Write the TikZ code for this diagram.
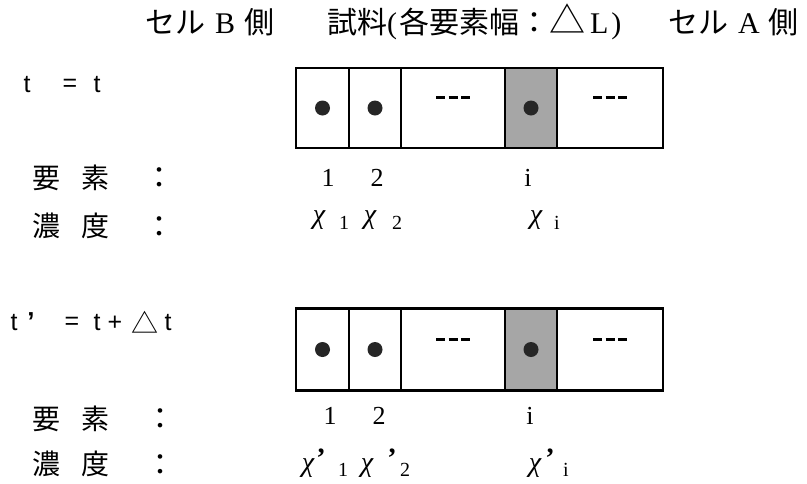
\documentclass[tikz,border=0pt]{standalone}
\usepackage{fontspec}
\setmainfont{Liberation Serif}
\newfontfamily\cjk{Noto Sans CJK JP}
\newfontfamily\sansf{Liberation Sans}
\begin{document}
\begin{tikzpicture}[x=1pt,y=-1pt,
  cell/.style={draw, line width=2.6pt, inner sep=0pt, outer sep=0pt},
  shaded/.style={cell, fill=black!35},
  dot/.style={circle, fill=black!85, minimum size=15pt, inner sep=0pt},
  tripledash/.style={line width=3pt, dash pattern=on 9pt off 3.5pt},
  head/.style={inner sep=0pt, anchor=west, font=\fontsize{30}{30}\selectfont},
  kanji/.style={inner sep=0pt, font=\cjk\fontsize{28}{28}\selectfont},
  colon/.style={inner sep=0pt, font=\cjk\fontsize{30}{30}\selectfont},
  tlab/.style={inner sep=0pt, font=\sansf\fontsize{25}{25}\selectfont},
  num/.style={inner sep=0pt, font=\fontsize{26}{26}\selectfont},
  chi/.style={inner sep=0pt, font=\itshape\fontsize{28}{28}\selectfont},
  sub/.style={inner sep=0pt, font=\fontsize{20}{20}\selectfont},
  prime/.style={inner sep=0pt, font=\bfseries\fontsize{28}{28}\selectfont}
]
\useasboundingbox (0,0) rectangle (807,483);

% header
\node[head] (hB) at (145,22) {{\cjk セル}\hspace{10pt}B\hspace{9pt}{\cjk 側}};
\node[head] (hS) at (327,22) {{\cjk 試料}(\hspace{2pt}{\cjk 各要素幅：}{\cjk\fontsize{36}{36}\selectfont △}\hspace{5pt}L\hspace{3pt})};
\node[head] (hA) at (668,22) {{\cjk セル}\hspace{10pt}A\hspace{9pt}{\cjk 側}};

% time labels
\node[tlab] (t1a) at (27,85) {t};
\node[tlab] (t1b) at (70,85) {=};
\node[tlab] (t1c) at (97,85) {t};

\node[tlab] (t2a) at (14,323) {t};
\node[inner sep=0pt, font=\sansf\bfseries\fontsize{26}{26}\selectfont] (t2p) at (31,322) {’};
\node[tlab] (t2b) at (72,323) {=};
\node[tlab] (t2c) at (97,323) {t};
\node[tlab] (t2d) at (115,323) {+};
\node[inner sep=0pt, font=\cjk\fontsize{27}{27}\selectfont] (t2e) at (145,322) {△};
\node[tlab] (t2f) at (168,323) {t};

% row labels
\node[kanji] (y1a) at (46,178) {要};
\node[kanji] (y1b) at (95,178) {素};
\node[colon] (y1c) at (159,178) {：};
\node[kanji] (n1a) at (46,226) {濃};
\node[kanji] (n1b) at (95,226) {度};
\node[colon] (n1c) at (159,227) {：};

\node[kanji] (y2a) at (46,419) {要};
\node[kanji] (y2b) at (95,419) {素};
\node[colon] (y2c) at (160,419) {：};
\node[kanji] (n2a) at (46,464) {濃};
\node[kanji] (n2b) at (95,464) {度};
\node[colon] (n2c) at (160,465) {：};

% top strip
\node[cell, minimum width=53pt, minimum height=80pt] (a1) at (322.5,108) {};
\node[cell, minimum width=52pt, minimum height=80pt] (a2) at (375,108) {};
\node[cell, minimum width=104pt, minimum height=80pt] (a3) at (453,108) {};
\node[shaded, minimum width=52pt, minimum height=80pt] (a4) at (531,108) {};
\node[cell, minimum width=106pt, minimum height=80pt] (a5) at (610,108) {};
\node[dot] (da1) at (a1.center) {};
\node[dot] (da2) at (a2.center) {};
\node[dot] (da4) at (a4.center) {};
\draw[tripledash] ([shift={(-17,-11)}]a3.center) -- ++(34,0);
\draw[tripledash] ([shift={(-17,-11)}]a5.center) -- ++(34,0);

% bottom strip
\node[cell, minimum width=53pt, minimum height=82pt] (b1) at (322.5,349.5) {};
\node[cell, minimum width=52pt, minimum height=82pt] (b2) at (375,349.5) {};
\node[cell, minimum width=104pt, minimum height=82pt] (b3) at (453,349.5) {};
\node[shaded, minimum width=52pt, minimum height=82pt] (b4) at (531,349.5) {};
\node[cell, minimum width=106pt, minimum height=82pt] (b5) at (610,349.5) {};
\node[dot] (db1) at (b1.center) {};
\node[dot] (db2) at (b2.center) {};
\node[dot] (db4) at (b4.center) {};
\draw[tripledash] ([shift={(-17,-10)}]b3.center) -- ++(34,0);
\draw[tripledash] ([shift={(-17,-10)}]b5.center) -- ++(34,0);

% element numbers
\node[num] (e1a) at (328,178) {1};
\node[num] (e1b) at (377,178) {2};
\node[num] (e1i) at (528,178) {i};
\node[num] (e2a) at (330,416) {1};
\node[num] (e2b) at (379,416) {2};
\node[num] (e2i) at (530,416) {i};

% concentrations, t
\node[chi] (c1a) at (319,220) {χ};
\node[sub] (c1as) at (344,223) {1};
\node[chi] (c1b) at (370,220) {χ};
\node[sub] (c1bs) at (397,223) {2};
\node[chi] (c1i) at (536,220) {χ};
\node[sub] (c1is) at (557,223) {i};

% concentrations, t'
\node[chi] (c2a) at (308,468) {χ};
\node[prime] (c2ap) at (321,458) {’};
\node[sub] (c2as) at (343,470) {1};
\node[chi] (c2b) at (367,468) {χ};
\node[prime] (c2bp) at (392,458) {’};
\node[sub] (c2bs) at (405,470) {2};
\node[chi] (c2i) at (535,468) {χ};
\node[prime] (c2ip) at (550,458) {’};
\node[sub] (c2is) at (566,470) {i};
\end{tikzpicture}
\end{document}
